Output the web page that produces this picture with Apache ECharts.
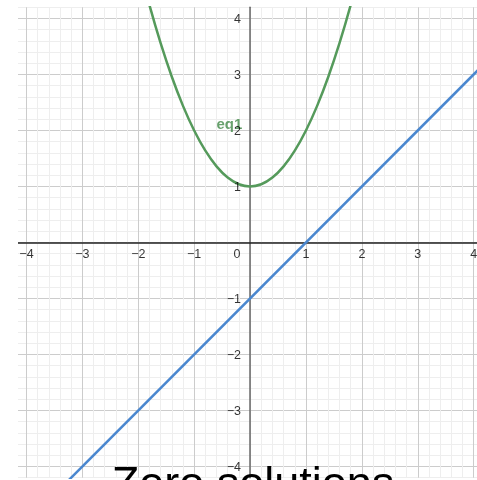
<!DOCTYPE html>
<html>
<head>
<meta charset="utf-8">
<title>Zero solutions</title>
<script src="https://cdn.jsdelivr.net/npm/echarts@6/dist/echarts.min.js"></script>
<style>
  html, body { margin: 0; padding: 0; background: #fff; }
  #chart { width: 477px; height: 480px; }
</style>
</head>
<body>
<div id="chart"></div>
<script>
// Tick labels on each axis
const xTickLabels = [-4, -3, -2, -1, 0, 1, 2, 3, 4];
const yTickLabels = [-4, -3, -2, -1, 1, 2, 3, 4];

// eq1: parabola sampled points
const parabolaX = [-2.0, -1.8, -1.6, -1.4, -1.2, -1.0, -0.8, -0.6, -0.4, -0.2, 0.0,
                   0.2, 0.4, 0.6, 0.8, 1.0, 1.2, 1.4, 1.6, 1.8, 2.0];
const parabolaY = [5.0, 4.24, 3.56, 2.96, 2.44, 2.0, 1.64, 1.36, 1.16, 1.04, 1.0,
                   1.04, 1.16, 1.36, 1.64, 2.0, 2.44, 2.96, 3.56, 4.24, 5.0];

// Straight line end points
const lineX = [-4.5, 4.5];
const lineY = [-5.5, 3.5];

// Curve label
const curveName = 'eq1';
const curveLabelAt = [-0.37, 2.1];

const titleText = 'Zero solutions';

const GREEN = '#559a5b';
const LABEL_GREEN = '#428a48';
const BLUE = '#4a87cf';
const FONT = '"Liberation Sans", Arial, Helvetica, sans-serif';

const minus = v => (v < 0 ? '\u2212' + Math.abs(v) : String(v));

// Every 0.2 a grid line; every fifth one (the integers) is darker.
const gridColors = ['#eeeeee', '#cccccc', '#eeeeee', '#eeeeee', '#eeeeee'];

const tickLabelStyle = { fontFamily: FONT, fontSize: 12.5, color: '#000' };

const chart = echarts.init(document.getElementById('chart'), null, { renderer: 'canvas' });

chart.setOption({
  animation: false,
  backgroundColor: '#fff',
  title: {
    text: titleText,
    left: 248,
    top: 458,
    textAlign: 'center',
    textStyle: { fontFamily: FONT, fontSize: 45, fontWeight: 'normal', color: '#000' }
  },
  grid: { left: 15.3, right: 0, top: 7.3, bottom: 2.3, containLabel: false, outerBoundsMode: 'none' },
  xAxis: {
    type: 'value',
    min: -4.2,
    max: 4.06,
    interval: 0.2,
    axisLine: { onZero: true, lineStyle: { color: '#222', width: 1.5 } },
    axisTick: { show: false },
    axisLabel: { show: false },
    splitLine: { show: true, showMaxLine: false, lineStyle: { color: gridColors, width: 1 } }
  },
  yAxis: {
    type: 'value',
    min: -4.2,
    max: 4.2,
    interval: 0.2,
    axisLine: { onZero: true, lineStyle: { color: '#6a6a6a', width: 1.5 } },
    axisTick: { show: false },
    axisLabel: { show: false },
    splitLine: { show: true, lineStyle: { color: gridColors, width: 1 } }
  },
  graphic: [{
    type: 'rect',
    shape: { x: 0, y: 0, width: 18, height: 480 },
    style: { fill: '#fff' },
    z: 100
  }],
  series: [
    {
      type: 'line',
      name: curveName,
      data: parabolaX.map((x, i) => [x, parabolaY[i]]),
      smooth: 0.4,
      showSymbol: false,
      clip: true,
      lineStyle: { color: GREEN, width: 2.5 },
      z: 3
    },
    {
      type: 'line',
      data: lineX.map((x, i) => [x, lineY[i]]),
      showSymbol: false,
      clip: true,
      lineStyle: { color: BLUE, width: 2.5 },
      z: 3
    },
    {
      // tick labels along the horizontal axis (y = 0)
      type: 'scatter',
      silent: true,
      data: xTickLabels.map(v => ({
        value: [v, 0],
        label: v === 0 ? { offset: [-13, 0] } : {}
      })),
      symbolSize: 0,
      itemStyle: { color: 'rgba(0,0,0,0)' },
      label: Object.assign({
        show: true,
        position: 'bottom',
        distance: 6,
        formatter: p => minus(p.value[0])
      }, tickLabelStyle),
      z: 5
    },
    {
      // tick labels along the vertical axis (x = 0)
      type: 'scatter',
      silent: true,
      data: yTickLabels.map(v => [0, v]),
      symbolSize: 0,
      itemStyle: { color: 'rgba(0,0,0,0)' },
      label: Object.assign({
        show: true,
        position: 'left',
        distance: 9,
        offset: [0, 1.5],
        formatter: p => minus(p.value[1])
      }, tickLabelStyle),
      z: 5
    },
    {
      type: 'scatter',
      silent: true,
      data: [curveLabelAt],
      symbolSize: 0,
      itemStyle: { color: 'rgba(0,0,0,0)' },
      label: {
        show: true,
        position: 'inside',
        formatter: curveName,
        fontFamily: FONT,
        fontSize: 15,
        fontWeight: 'bold',
        color: LABEL_GREEN
      },
      z: 4
    }
  ]
});
</script>
</body>
</html>
